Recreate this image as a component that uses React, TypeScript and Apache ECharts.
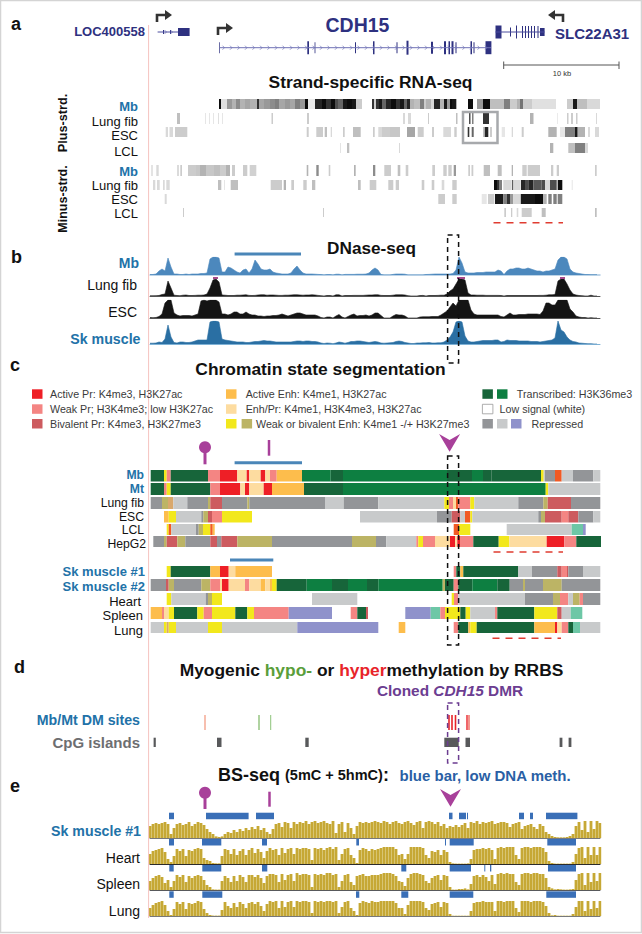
import React, { useEffect, useRef } from "react";
import * as echarts from "echarts";

// ---------- data (x values are locus positions, one unit per screen pixel) ----------
const STATE: Record<string, string> = {
  T1: "#17653a", T2: "#0d7f41", AP: "#ee1f26", WP: "#f48583", BP: "#cd5b5f", AE: "#fdbd4c", EP: "#fddca0",
  WE: "#f2e81c", BE: "#bcb465", R1: "#939598", R2: "#c8cacb", R3: "#8f92cb", OR: "#f15a24", TE: "#6dc7a6", MX: "#d9a86c",
};
type Seg = [number, number, string];
const chromMb: Seg[] = [[150.7,164,"T1"],[164,166.7,"WE"],[166.7,170.7,"WP"],[170.7,208,"T1"],[208,220,"WP"],[220,237.3,"AP"],[237.3,246.7,"EP"],[246.7,249.3,"AP"],[249.3,260.7,"EP"],[260.7,265.3,"AP"],[265.3,270,"EP"],[270,276.7,"WP"],[276.7,302,"AE"],[302,330.7,"T2"],[330.7,343,"T1"],[343,447,"T2"],[447,472,"T1"],[472,483,"T2"],[483,491.7,"T1"],[491.7,541,"T1"],[541,543.7,"WE"],[543.7,545,"R2"],[545,555,"R1"],[555,561.7,"OR"],[561.7,573,"R2"],[573,593.3,"R1"],[593.3,600.3,"R2"]];
const chromMt: Seg[] = [[150.7,164,"T1"],[164,166.7,"WP"],[166.7,170.7,"WE"],[170.7,210.3,"T1"],[210.3,220,"WP"],[220,240.3,"AP"],[240.3,245,"EP"],[245,249.3,"AP"],[249.3,263.7,"EP"],[263.7,272,"AP"],[272,304,"AE"],[304,343,"T1"],[343,545.7,"T2"],[545.7,548.3,"WE"],[548.3,600.3,"R2"]];
const chromLungFib: Seg[] = [[150.7,162,"R1"],[162,168,"BE"],[168,173.3,"MX"],[173.3,187.3,"R2"],[187.3,208,"R1"],[208,210.3,"BE"],[210.3,222,"BP"],[222,247.3,"R1"],[247.3,249.3,"BE"],[249.3,325,"R1"],[325,343.7,"R2"],[343.7,378.3,"R1"],[378.3,444.3,"R2"],[444.3,449,"WE"],[449,453,"WP"],[453,456,"EP"],[456,458.3,"OR"],[458.3,470.3,"WP"],[470.3,474.3,"WE"],[474.3,518.3,"R2"],[518.3,543.3,"R1"],[543.3,547.7,"BE"],[547.7,571,"BP"],[571,600.3,"R1"]];
const chromESC: Seg[] = [[164,168.7,"AE"],[168.7,176,"WE"],[176,201.3,"R2"],[201.3,203.3,"R1"],[203.3,208,"BE"],[208,212,"BP"],[212,222,"WP"],[222,252,"WE"],[360,437,"R2"],[437,451.7,"R1"],[451.7,460.3,"BP"],[460.3,465,"R2"],[465,470.3,"OR"],[470.3,472.3,"WE"],[472.3,538.3,"R2"],[538.3,541,"R1"],[541,545,"BE"],[545,561.7,"BP"],[561.7,568.3,"WP"],[568.3,578.3,"BP"],[578.3,593.3,"R1"],[593.3,600.3,"R2"]];
const chromLCL: Seg[] = [[166.7,168.7,"WE"],[168.7,171.3,"OR"],[171.3,196,"R2"],[196,198.7,"R1"],[198.7,203,"BE"],[203,210.3,"WE"],[210.3,212.7,"OR"],[212.7,214.7,"AE"],[453.7,459,"OR"],[459,470.3,"WE"],[506.7,571.7,"R2"],[571.7,583,"TE"],[583,585.7,"R3"]];
const chromHepG2: Seg[] = [[153.3,164,"R1"],[164,166.7,"BE"],[166.7,177.3,"BP"],[177.3,185.3,"BE"],[185.3,210.3,"R1"],[210.3,217,"BP"],[217,221.3,"R1"],[221.3,237.3,"BP"],[237.3,272,"BE"],[272,352,"R1"],[352,376,"BE"],[376,386.3,"R1"],[386.3,416.3,"R2"],[416.3,418.3,"WP"],[418.3,423,"WE"],[423,435,"WP"],[435,450,"EP"],[450,455,"AP"],[455,457.3,"EP"],[457.3,460,"AP"],[460,473.3,"WP"],[473.3,498.7,"T1"],[498.7,509.3,"WE"],[509.3,546.7,"EP"],[546.7,564.3,"AP"],[564.3,576.3,"WP"],[576.3,601,"T1"]];
const chromSk1: Seg[] = [[166.7,170.7,"WE"],[170.7,210.3,"T1"],[210.3,220,"AE"],[220,228.7,"AP"],[228.7,235.3,"EP"],[235.3,272,"AE"],[453.7,456.3,"WP"],[456.3,460.3,"T1"],[460.3,463.3,"AE"],[463.3,518.3,"T1"],[518.3,532,"R2"],[532,557.3,"R1"],[557.3,561.7,"BP"],[561.7,567,"WP"],[567,568.3,"BP"],[568.3,583,"R1"],[583,600.3,"R2"]];
const chromSk2: Seg[] = [[150.7,166,"R1"],[166,168.7,"BP"],[168.7,174,"BE"],[174,201.3,"R1"],[201.3,210.3,"BE"],[210.3,220,"WP"],[220,222,"EP"],[222,228.7,"AP"],[228.7,245,"EP"],[245,249.3,"WP"],[249.3,260.7,"EP"],[260.7,265.3,"AE"],[265.3,270,"EP"],[270,272,"AE"],[272,276.7,"WE"],[276.7,306.7,"T1"],[306.7,332,"T2"],[332,348,"T1"],[348,367,"T2"],[367,378.3,"T1"],[378.3,442.7,"T2"],[442.7,445,"BE"],[445,453.7,"T1"],[453.7,458.3,"WP"],[458.3,472.3,"T1"],[472.3,497.3,"T2"],[497.3,509.7,"T1"],[509.7,523,"R1"],[523,525,"BE"],[525,543,"R1"],[543,561.7,"BE"],[561.7,600.3,"R1"]];
const chromHeart: Seg[] = [[166.7,171.3,"WE"],[171.3,205.7,"R2"],[205.7,208,"R1"],[208,212,"BE"],[212,222,"WE"],[312,357.3,"R2"],[451.7,454,"WE"],[454,458.3,"WP"],[458.3,525,"R2"],[525,553,"R1"],[553,560,"BE"],[560,568.3,"WP"],[568.3,573,"R2"],[573,579.7,"BE"],[579.7,583,"WP"],[583,600.3,"R1"]];
const chromSpleen: Seg[] = [[150.7,162,"AE"],[162,164,"WP"],[164,168.7,"EP"],[168.7,174,"WE"],[174,197.3,"T1"],[197.3,203.7,"WE"],[203.7,212,"WP"],[212,235.3,"WE"],[235.3,247.3,"T1"],[247.3,254,"WE"],[254,288.7,"WP"],[288.7,332,"R3"],[350.7,357.3,"WP"],[357.3,366,"T1"],[366,368,"BP"],[405.3,430.7,"R3"],[430.7,440.3,"TE"],[440.3,445,"WP"],[445,460.3,"WE"],[460.3,465.7,"T1"],[465.7,470.3,"WE"],[470.3,495,"R2"],[495,497.3,"WP"],[497.3,534.3,"T1"],[534.3,557.3,"WE"],[557.3,561.7,"BP"],[561.7,570.7,"R2"],[570.7,582.3,"TE"]];
const chromLung: Seg[] = [[150.7,164,"R2"],[164,166.7,"WE"],[166.7,168.7,"MX"],[168.7,176,"WE"],[176,208,"R2"],[208,222,"WE"],[222,297.3,"R2"],[297.3,378.3,"R3"],[398.7,405.3,"AE"],[453.7,458.3,"WP"],[458.3,468.3,"T1"],[468.3,470.3,"AE"],[470.3,476.7,"WE"],[476.7,534.3,"T1"],[534.3,555,"AE"],[555,557.3,"AP"],[557.3,561.7,"EP"],[561.7,568.3,"WP"],[568.3,573,"T1"],[573,580,"TE"],[580,600.3,"R2"]];

type Strip = [number, number, number];
const rnaPlusMb: Strip[] = [[219,221,.95],[221,227,.12],[227,232,.4],[232,236,.3],[236,240,.45],[240,245,.3],[245,250,.35],[250,257,.3],[257,259,.8],[259,264,.35],[264,270,.4],[270,275,.45],[275,279,.5],[279,285,.35],[285,290,.4],[290,295,.35],[295,300,.5],[300,305,.4],[305,308,.95],[308,315,.08],[315,322,.85],[322,326,.95],[326,331,.8],[331,335,.95],[335,338,.7],[338,343,.6],[343,347,.9],[347,352,.95],[352,356,.9],[356,362,.2],[372,374,.8],[374,376,.2],[376,379,.8],[379,382,.9],[382,386,.6],[386,391,.85],[391,396,.95],[396,400,.8],[400,404,.9],[404,407,.6],[407,410,.85],[410,414,.3],[414,420,.25],[420,424,.5],[424,426,.2],[426,431,.3],[431,434,.15],[434,440,.85],[440,444,.3],[444,447,.9],[447,450,.4],[450,452,.95],[452,456,.9],[456,457,.3],[468,473,.95],[477,483,.4],[483,490,.95],[490,504,.25],[504,510,.5],[510,517,.2],[517,520,.3],[520,523,.55],[523,532,.2],[532,556,.12],[567,573,.2],[573,577,.9],[577,587,.25],[587,600,.15]];
const rnaPlusLungFib: Strip[] = [[177,180,.25],[205,206,.1],[209,210,.1],[213,214,.1],[218,219,.12],[222,223,.1],[271.5,273,.2],[307,309,.2],[403,405,.15],[408,411,.15],[428,429,.2],[456,457.5,.25],[469,470.5,.7],[472,473.5,.5],[483,489,.8],[530,533.5,.3],[557,558,.08],[567,568.5,.2],[571,573,.2],[576,577.5,.2],[596,597,.15]];
const rnaPlusESC: Strip[] = [[165.7,168,.15],[169.5,173,.15],[175,187.3,.2],[306.7,308.7,.2],[316.3,323,.2],[324.7,327,.25],[330.7,332,.15],[343,344.7,.2],[353,360.7,.25],[373,374.7,.2],[378.3,382,.15],[382,390,.2],[390,400,.22],[407,415,.35],[417.7,423.7,.2],[432,434,.2],[443.3,451,.15],[454.3,456.7,.2],[467.7,469.3,.8],[471.7,473.7,.6],[483.3,485,.35],[485,488.3,.85],[490,492,.2],[501.7,505,.1],[511.7,513,.15],[521.7,523.7,.2],[548.3,556.7,.3],[560,565,.1],[565,575,.5],[575,577.7,.9],[577.7,585,.3],[588,590,.15],[595,599,.15]];
const rnaPlusLCL: Strip[] = [[340.3,341,.15],[347,349.3,.25],[399,400,.15],[550,553.3,.3],[568.3,575,.25],[575,585,.5],[585,588,.15]];
const rnaMinusMb: Strip[] = [[151.3,152.7,.15],[156.3,158.7,.15],[177.3,178.7,.2],[180.3,182,.2],[188,196,.2],[196,200,.22],[200,206,.3],[206,214,.22],[214,220,.25],[220,226,.2],[226,230,.3],[232,235,.2],[243,247.3,.2],[249.7,256.3,.18],[306.7,308.3,.3],[316.3,318.7,.45],[328.7,330.3,.2],[354,355.7,.3],[373,375.3,.45],[384.3,391,.2],[397.7,400.3,.25],[405.7,408.3,.2],[432.3,435,.2],[443.3,446.7,.2],[448.3,451.7,.2],[453.7,456,.4],[468.3,470,.2],[471.5,473.3,.2],[483.7,490,.25],[497.7,501.7,.25],[511.7,513,.3],[522.3,526.7,.2],[527.7,540,.2],[551,553.3,.2],[556.7,559,.2],[595,596.7,.2]];
const rnaMinusLungFib: Strip[] = [[153,155.3,.15],[157,159.7,.15],[163,164.7,.15],[166.3,169.7,.15],[218,221.3,.25],[224,225,.1],[230.7,238,.25],[270.7,282,.2],[283.7,286,.3],[291.3,294,.2],[303.3,306.7,.2],[312,315.3,.25],[358,360.7,.25],[369.7,376.3,.2],[388.3,393.3,.2],[395.7,399,.2],[421.7,424.3,.2],[431.7,434.3,.2],[441.7,444.3,.15],[452.3,456.7,.2],[494,497,.95],[497,499,.8],[499,502,.5],[503.3,511.7,.15],[512.3,513.3,.9],[513.3,520.7,.15],[521,525,.85],[525,528.3,.7],[528.3,533.3,.85],[533.3,541.7,.65],[541.7,545,.7],[545,550,.15],[550,556.7,.7],[557.7,562.3,.95],[571.7,572.7,.1]];
const rnaMinusESC: Strip[] = [[164.7,166.7,.15],[438.3,445,.2],[452.3,456.7,.2],[481.7,486.7,.1],[488,494.3,.2],[495,503.3,.9],[503.3,506.7,.5],[506.7,510,.8],[510,513.3,.4],[513.3,520,.15],[520.7,535,.9],[535,543.3,.95],[543.3,546.7,.3],[548.3,551.7,.5],[553.3,556.7,.5],[557.7,562.3,.5]];
const rnaMinusLCL: Strip[] = [[183,184,.2],[323,324,.2],[504.3,506,.2],[511,512.3,.2],[516.7,518.3,.15],[521.7,531.7,.2],[541.7,545.7,.25],[595,596.7,.25]];

// DNase-seq signal, one value every 3 locus units from 150
const dnaseMb = [.5,.5,1,4,6,4,17,8,1,1,.5,.5,1,.5,1,1,1,1.5,1.5,2,16,18,18,17,3,3,8,7,5,3,2,5,6,2,6,15,11,6,5,5,6,3,2,1.5,1,1,1,2,6,9,5,2,1,1,1,.8,.6,.4,0,.4,.4,0,.8,.8,0,.6,.6,.6,.6,.8,.8,.8,1,2,5,7,5,.5,0,0,0,.6,1,1,1,.8,0,0,0,0,0,0,.5,.6,.8,1,1,1,1,1,1,1.5,5,18,12,3,2,2,2,2.5,2.5,2.5,3,3,3,3,5,4,.5,4,6,6,7,7,6,6,7,6,5,4,4,3,4,4,5,6,15,18,18,16,6,3,2,1.5,1,.5,.4,.3,.3,.3];
const dnaseLungFib = [.2,.2,.3,.5,1.5,2,15,8,.8,.5,.3,.8,1,.5,.5,.6,.8,.8,1,2,8,16,17,14,1,.8,.5,.5,.5,.8,.8,1,1.2,.6,.5,.6,1,1.2,1.2,.8,1,1,.8,.6,.6,.8,.8,1,1.2,1.2,1,.8,1,1,1.2,1,.6,.3,0,.5,.5,0,1.2,1.2,0,.5,.5,.5,.6,.6,.6,.6,.8,1,1,1.2,1.2,.6,.5,.5,.5,.8,1.2,1.2,1.2,1,.3,0,0,0,.4,.6,0,.5,.5,.5,.6,.8,.8,2,5,7,12,17,17,16,3,1,1,.8,.8,.8,.6,.6,.6,.6,.6,.5,0,.5,.5,.5,.5,.5,.5,.5,.5,.5,.5,.5,.6,.6,.8,1.2,1.2,1.5,15,17,17,12,6,2,1,.5,.3,0,0,.8,0,0];
const dnaseESC = [.5,.3,.5,1.5,4,15,18,18,5,3,2,2.5,2.5,2.5,2,3,4,17,18,17,18,18,18,16,4,4,3,4,6,6,4,4,6,4,3,3,2,2,1.5,2,2,2.5,2.5,3,4,3,2,3,4,5,5,4,3,3,3,3,2,.5,0,1,1,0,2,3.5,1,0,1.5,3,4,2,2.5,2.5,3,2,3,5,5,2.5,0,0,0,2,3.5,3,3,2,0,0,0,0,1,1.2,1.2,1.2,1.5,1.5,1.5,3,5,7,11,15,12,18,18,18,18,8,4,3,3,3,3,3,3,3,3,1.5,1,3,5,3,3,3.5,3.5,3.5,4,4,4,4,3.5,7,15,15,13,13,18,18,18,18,9,6,2,1,.5,.5,0,.3,0,0];
const dnaseSk = [.8,.8,1,2,1.5,5,19,7,1.5,1,2,2,1.5,1.5,2,3,4,4,4,4,22,23,23,22,5,4,3.5,3,2.5,2,2,2,1.5,1.5,2,2.5,2.5,3,3.5,3,3,2.5,2,2,2,2,2,2,2.5,3,3,2.5,3,3,2.5,2.5,2,1,.5,1,.8,.3,1,2,1.5,.8,1.5,2.5,2.5,3,3,2.5,2,1.5,2,2.5,2,1,.8,1,1.2,1.5,2.5,3,2.5,1.5,1,.5,.5,1,1,1.2,1.2,1.5,1,1,1.2,1.2,2,4,7,12,22,23,22,8,3,2,2,2.5,3,3.5,3.5,3.5,3.5,4,4,2,2.5,4,3.5,3.5,3.5,3,3,3,3,2.5,2.5,2.5,2,2.5,3,3.5,4,6,23,14,12,7,4,2.5,2,1,.8,.5,.3,.3,0,0];
const dnaseCaps: [number, number][] = [[213, 218], [457, 465], [560, 565]];

// BS-seq methylation signal, one value every 3 locus units from 150
const bsSk1 = [12,14,15,14,15,16,14,4,10,14,15,13,14,16,12,14,16,15,13,9,6,4,1.5,1,1.5,4,6,5,8,6,9,7,10,8,11,9,12,8,10,6,4,9,14,15,11,16,15,10,16,14,16,15,17,14,16,17,15,16,17,15,14,17,5,14,16,6,15,10,4,12,16,15,16,15,16,17,16,15,17,16,14,16,17,15,14,16,17,15,13,16,17,10,16,17,16,14,16,12,14,10,12,11,13,11,13,15,10,16,15,17,14,16,15,16,17,14,15,16,16,15,11,14,15,16,9,12,13,14,11,9,14,12,6,4,2,1,.5,.5,.5,1,2,4,12,16,8,17,6,17,9,17,15];
const bsHeart = [10,13,14,15,16,12,5,2,8,15,13,15,8,14,13,15,16,15,6,4,3,1,.5,.5,8,15,14,10,15,9,13,15,9,14,16,11,15,12,6,13,16,14,15,9,16,11,15,16,10,16,15,16,16,15,4,16,15,16,14,16,17,15,17,4,10,15,16,9,6,1,14,16,15,13,15,14,15,16,17,17,17,17,15,9,10,5,10,17,17,17,17,16,9,6,13,12,14,9,14,12,2,.5,.3,.3,.3,.3,.5,5,14,15,15,16,15,16,14,5,16,17,16,17,17,17,9,5,16,17,17,16,17,17,17,16,12,3,1,.3,.3,.3,.3,.3,.3,2,10,16,17,6,17,9,17,9,17];
const bsSpleen = [9,12,14,15,13,7,10,3,9,15,13,15,8,14,12,14,15,14,10,5,3,.5,.3,.3,9,14,12,8,14,9,15,13,8,15,15,13,15,12,7,14,16,16,15,8,16,10,15,16,9,17,15,16,16,15,3,16,15,16,15,17,17,15,16,3,9,15,16,8,5,14,15,16,14,14,15,15,15,16,17,17,17,16,14,9,8,4,12,16,17,17,16,15,9,7,12,14,15,10,15,14,3,.3,.3,1,1,1.5,.5,6,14,15,13,15,13,9,15,6,16,17,16,17,16,16,8,5,16,17,17,16,17,17,16,16,12,3,1.5,.5,1,.5,.3,.3,.5,1,10,16,17,5,17,8,17,9,17];
const bsLung = [8,11,13,14,15,11,5,1,7,14,12,14,7,13,12,13,15,14,7,3,1,.3,.3,.3,6,14,10,8,13,9,14,12,8,13,14,12,14,10,5,12,15,14,15,8,15,9,14,15,9,15,14,15,15,14,3,15,14,15,14,15,15,14,15,3,9,14,15,8,5,1,13,15,14,13,15,14,14,15,15,15,15,15,13,8,8,2,11,15,15,15,15,14,8,6,12,13,14,9,14,13,2,.2,.2,.2,.2,.2,.2,5,13,14,14,15,14,14,14,5,15,15,14,15,15,15,8,4,15,15,15,14,15,15,15,14,10,3,.5,1,.2,.2,.2,.2,.2,2,9,15,15,5,15,7,15,8,15];

const lowMethSk1: [number, number][] = [[169,174],[206,248.6],[256,274],[449,452.5],[459,466],[467,468],[519,524],[530,533],[546,577.4]];
const lowMethHeart: [number, number][] = [[169,174],[202,221.3],[262,267],[356.3,359],[445,446],[449.7,473.7],[547.3,576]];
const lowMethSpleen: [number, number][] = [[169.3,173.7],[202.3,221.3],[262,267.3],[401.3,406.3],[449.7,471],[484.3,485.3],[490,491.3],[548,576]];
const lowMethLung: [number, number][] = [[169.3,173.7],[202.3,222.3],[356,359.3],[401.3,408.3],[449.7,473.3],[546.3,576]];

const dmSites: [number, string, number][] = [[205,"#f08060",.5],[259,"#62a744",.5],[270.7,"#8cc47a",.5],[449,"#e8242a",.8],[452,"#e8242a",.8],[455.5,"#e8242a",.8],[467,"#e8242a",.7],[469,"#ee6a60",.7]];
const cpgIslands: [number, number][] = [[153.6,155.8],[217,221.5],[305.3,308.7],[444.3,458.7],[465.5,470],[559.6,562.4],[568.6,571.4]];

const geneLOCExons: [number, number, number][] = [[163,164,4],[170,171,4],[178,189.6,8]];
const geneCDHExons: [number, number, number][] = [[219.3,220,11],[307.3,309,13],[314.6,315.4,11],[355,356,11],[373,374.5,13],[396.5,397.5,11],[406.5,408.5,14],[431,433,12],[444,446,13],[448.5,450,13],[451.5,453.5,13],[455.5,456.5,11],[470.5,472,13],[473.5,474.5,11],[485.5,491.4,13]];
const geneSLCExons: [number, number, number][] = [[495.5,501.5,13],[510,511,9],[516,517,13],[522,523,12],[525,526,12],[528,529,12],[531,532,12],[534,535,12],[537.5,538.5,12],[540,544.6,8]];

const legendRows = [
  { y: 394, items: [{ x: 32, c: "AP", t: "Active Pr: K4me3, H3K27ac", tx: 50 }, { x: 226, c: "AE", t: "Active Enh: K4me1, H3K27ac", tx: 245.7 }, { x: 482.4, c: "T1" }, { x: 497, c: "T2", t: "Transcribed: H3K36me3", tx: 516.8 }] },
  { y: 409, items: [{ x: 32, c: "WP", t: "Weak Pr; H3K4me3; low H3K27ac", tx: 50 }, { x: 226, c: "EP", t: "Enh/Pr: K4me1, H3K4me3, H3K27ac", tx: 245.7 }, { x: 482.4, c: "WH", t: "Low signal (white)", tx: 499.6 }] },
  { y: 423.7, items: [{ x: 32, c: "BP", t: "Bivalent Pr: K4me3, H3K27me3", tx: 50 }, { x: 226, c: "WE" }, { x: 241.6, c: "BE", t: "Weak or bivalent Enh: K4me1 -/+ H3K27me3", tx: 256 }, { x: 482.4, c: "R1" }, { x: 497, c: "R2" }, { x: 511, c: "R3", t: "Repressed", tx: 531.5 }] },
];

// ---------- layout ----------
const FONT = '"Liberation Sans", Arial, sans-serif';
const BLUE = "#2272a8";
const NAVY = "#2e3180";
const chromRows: [number, number, Seg[]][] = [[470,481.5,chromMb],[483,495,chromMt],[497,509,chromLungFib],[511,522.5,chromESC],[524,535,chromLCL],[536,547,chromHepG2],[566,577,chromSk1],[579,591,chromSk2],[593,605,chromHeart],[607,619,chromSpleen],[622,633,chromLung]];
const rnaRows: [number, number, Strip[]][] = [[99,109,rnaPlusMb],[113,124,rnaPlusLungFib],[127,137,rnaPlusESC],[143,153,rnaPlusLCL],[165,176,rnaMinusMb],[180,190,rnaMinusLungFib],[194,204,rnaMinusESC],[208,217,rnaMinusLCL]];
const bsBars: [number, [number, number][]][] = [[812.7,lowMethSk1],[839,lowMethHeart],[865,lowMethSpleen],[891.3,lowMethLung]];

type Span = { x0: number; x1: number; y0: number; y1: number; color: string };
function gray(l: number) { const v = Math.round(255 * (1 - l)); return `rgb(${v},${v},${v})`; }

function spanSeries(items: Span[], z = 2) {
  return {
    type: "custom", xAxisIndex: 0, yAxisIndex: 0, silent: true, z, clip: false,
    encode: { x: [0, 1], y: [2, 3] },
    data: items.map((s) => [s.x0, s.x1, s.y0, s.y1]),
    renderItem: (p: any, api: any) => {
      const a = api.coord([api.value(0), api.value(2)]);
      const b = api.coord([api.value(1), api.value(3)]);
      return { type: "rect", shape: { x: a[0], y: a[1], width: b[0] - a[0], height: b[1] - a[1] }, style: { fill: items[p.dataIndex].color } };
    },
  };
}

function txt(text: string, x: number, y: number, size: number, o: any = {}) {
  return {
    type: "text", x, y, z: 100, silent: true, rotation: o.rotation || 0,
    style: { text, fill: o.fill || "#111", font: `${o.italic ? "italic " : ""}${o.bold ? "bold " : ""}${size}px ${FONT}`, textAlign: o.align || "left", textVerticalAlign: "middle", ...(o.rich ? { rich: o.rich } : {}) },
  };
}
function line(x1: number, y1: number, x2: number, y2: number, stroke: string, lineWidth: number, lineDash?: number[]) {
  return { type: "line", z: 100, silent: true, shape: { x1, y1, x2, y2 }, style: { stroke, lineWidth, ...(lineDash ? { lineDash } : {}) } };
}
function dashBox(x: number, y: number, w: number, h: number, stroke: string) {
  return { type: "rect", z: 100, silent: true, shape: { x, y, width: w, height: h }, style: { fill: "none", stroke, lineWidth: 1.5, lineDash: [5, 4] } };
}
function tss(x: number, y: number, dir: number) {
  return [
    { type: "polyline", z: 100, silent: true, shape: { points: [[x, y + 7], [x, y], [x + dir * 9, y]] }, style: { stroke: "#333", lineWidth: 2.6, fill: "none" } },
    { type: "polygon", z: 100, silent: true, shape: { points: [[x + dir * 8, y - 5], [x + dir * 15, y], [x + dir * 8, y + 5]] }, style: { fill: "#333" } },
  ];
}
function chevronDown(cx: number, top: number, tip: number, hw: number) {
  return { type: "polygon", z: 100, silent: true, shape: { points: [[cx - hw, top], [cx, top + 6], [cx + hw, top], [cx, tip]] }, style: { fill: "#a8409a" } };
}
function lollipop(cx: number, cy: number, end: number) {
  return [
    line(cx, cy, cx, end, "#a8409a", 3),
    { type: "circle", z: 100, silent: true, shape: { cx, cy, r: 6 }, style: { fill: "#a8409a" } },
  ];
}
function intronChevrons(x0: number, x1: number, y: number, step: number, dir: number) {
  const out: any[] = [];
  for (let x = x0; x < x1; x += step) {
    out.push({ type: "polyline", z: 90, silent: true, shape: { points: [[x - dir * 1.5, y - 2], [x + dir * 0.5, y], [x - dir * 1.5, y + 2]] }, style: { stroke: "#6f72b5", lineWidth: 0.7, fill: "none" } });
  }
  return out;
}

function grid(top: number, h: number) { return { left: 150, width: 450, top, height: h }; }
function xAxis(idx: number, color: string, w: number) {
  return { type: "value", gridIndex: idx, min: 150, max: 600, axisLine: { show: true, onZero: true, lineStyle: { color, width: w } }, axisTick: { show: false }, axisLabel: { show: false }, splitLine: { show: false } };
}
function yAxis(idx: number, max: number) {
  return { type: "value", gridIndex: idx, min: 0, max, show: false };
}
function xy(vals: number[]) { return vals.map((v, i) => [150 + 3 * i, v]); }
function area(idx: number, vals: number[], color: string) {
  return { type: "line", xAxisIndex: idx, yAxisIndex: idx, data: xy(vals), symbol: "none", silent: true, smooth: false, lineStyle: { color, width: 0.6 }, areaStyle: { color, opacity: 1 }, z: 3 };
}
function bsUnder(idx: number, vals: number[]) {
  return { type: "line", xAxisIndex: idx, yAxisIndex: idx, data: xy(vals), symbol: "none", silent: true, step: "middle", lineStyle: { width: 0 }, areaStyle: { color: "#e2d596", opacity: 1 }, z: 2 };
}
function bars(idx: number, vals: number[]) {
  return { type: "bar", xAxisIndex: idx, yAxisIndex: idx, data: xy(vals), barWidth: 2.4, silent: true, itemStyle: { color: "#c6a835" }, z: 3 };
}

function buildOption() {
  const spans: Span[] = [];
  chromRows.forEach(([y0, y1, segs]) => segs.forEach(([a, b, s]) => spans.push({ x0: a, x1: b, y0, y1, color: STATE[s] })));
  const strips: Span[] = [];
  rnaRows.forEach(([y0, y1, segs]) => segs.forEach(([a, b, l]) => strips.push({ x0: a, x1: b, y0, y1, color: gray(l) })));
  const low: Span[] = [];
  bsBars.forEach(([y0, segs]) => segs.forEach(([a, b]) => low.push({ x0: a, x1: b, y0, y1: y0 + 6.5, color: "#3a6fb7" })));
  const dm: Span[] = dmSites.map(([x, c, w]) => ({ x0: x - w, x1: x + w, y0: 715, y1: 730, color: c }));
  const cpg: Span[] = cpgIslands.map(([a, b]) => ({ x0: a, x1: b, y0: 737.7, y1: 747, color: "#58595b" }));
  const genes: Span[] = [];
  const ex = (arr: [number, number, number][], cy: number) => arr.forEach(([a, b, h]) => genes.push({ x0: a, x1: b, y0: cy - h / 2, y1: cy + h / 2, color: NAVY }));
  ex(geneLOCExons, 32); ex(geneCDHExons, 47.7); ex(geneSLCExons, 32);
  const caps: Span[] = dnaseCaps.map(([a, b]) => ({ x0: a, x1: b, y0: 277, y1: 279, color: "#a84a8c" }));

  const labels = [
    txt("a", 11, 24, 18, { bold: true }), txt("b", 11, 257, 18, { bold: true }), txt("c", 10, 365, 18, { bold: true }),
    txt("d", 14, 667, 18, { bold: true }), txt("e", 10, 786, 18, { bold: true }),
    txt("LOC400558", 145, 31, 13, { bold: true, fill: NAVY, align: "right" }),
    txt("CDH15", 357.5, 25, 19.5, { bold: true, fill: NAVY, align: "center" }),
    txt("SLC22A31", 555, 33, 15, { bold: true, fill: NAVY }),
    txt("10 kb", 562, 73, 7.5, { align: "center", fill: "#333" }),
    txt("Strand-specific RNA-seq", 370.5, 81.5, 17.4, { bold: true, align: "center" }),
    txt("Plus-strd.", 63, 123, 12.7, { bold: true, align: "center", rotation: Math.PI / 2 }),
    txt("Minus-strd.", 63, 199, 12.5, { bold: true, align: "center", rotation: Math.PI / 2 }),
    txt("Mb", 138, 106, 13, { bold: true, fill: BLUE, align: "right" }),
    txt("Lung fib", 138, 121, 13, { align: "right" }), txt("ESC", 138, 135.5, 13, { align: "right" }), txt("LCL", 138, 151, 13, { align: "right" }),
    txt("Mb", 138, 171, 13, { bold: true, fill: BLUE, align: "right" }),
    txt("Lung fib", 138, 185, 13, { align: "right" }), txt("ESC", 138, 199.5, 13, { align: "right" }), txt("LCL", 138, 213, 13, { align: "right" }),
    txt("DNase-seq", 371.5, 247.5, 17.2, { bold: true, align: "center" }),
    txt("Mb", 139, 263, 14, { bold: true, fill: BLUE, align: "right" }),
    txt("Lung fib", 137, 285, 14, { align: "right" }), txt("ESC", 137, 312, 14, { align: "right" }),
    txt("Sk muscle", 140.5, 339, 14.2, { bold: true, fill: BLUE, align: "right" }),
    txt("Chromatin state segmentation", 320.5, 369, 17.4, { bold: true, align: "center" }),
    txt("Mb", 144, 474.5, 12.2, { bold: true, fill: BLUE, align: "right" }), txt("Mt", 144, 488.5, 12.2, { bold: true, fill: BLUE, align: "right" }),
    txt("Lung fib", 144, 502.5, 12.2, { align: "right" }), txt("ESC", 144, 516.5, 12.2, { align: "right" }), txt("LCL", 144, 530, 12.2, { align: "right" }), txt("HepG2", 146, 543.5, 12.2, { align: "right" }),
    txt("Sk muscle #1", 145, 571, 13, { bold: true, fill: BLUE, align: "right" }), txt("Sk muscle #2", 145, 586, 13, { bold: true, fill: BLUE, align: "right" }),
    txt("Heart", 141, 601, 13, { align: "right" }), txt("Spleen", 143, 615.5, 13, { align: "right" }), txt("Lung", 143, 630, 13, { align: "right" }),
    txt("{k|Myogenic }{g|hypo-}{k| or }{r|hyper}{k|methylation by RRBS}", 371.5, 669.5, 0, {
      align: "center",
      rich: {
        k: { font: `bold 17.4px ${FONT}`, fill: "#111" },
        g: { font: `bold 17.4px ${FONT}`, fill: "#5a9e3a" },
        r: { font: `bold 17.4px ${FONT}`, fill: "#e8242a" },
      },
    }),
    txt("{a|Cloned }{b|CDH15}{a| DMR}", 450, 690, 0, {
      align: "center",
      rich: { a: { font: `bold 15.4px ${FONT}`, fill: "#6c3d91" }, b: { font: `italic bold 15.4px ${FONT}`, fill: "#6c3d91" } },
    }),
    txt("Mb/Mt DM sites", 140, 719.5, 14.2, { bold: true, fill: BLUE, align: "right" }),
    txt("CpG islands", 140, 742, 15, { bold: true, fill: "#6d6e71", align: "right" }),
    txt("{a|BS-seq }{b|(5mC + 5hmC)}{a|:}", 218, 775, 0, {
      rich: { a: { font: `bold 18px ${FONT}`, fill: "#111" }, b: { font: `bold 14.5px ${FONT}`, fill: "#111" } },
    }),
    txt("blue bar, low DNA meth.", 399.5, 775, 15, { bold: true, fill: "#2a5fa5" }),
    txt("Sk muscle #1", 141, 831, 14.2, { bold: true, fill: BLUE, align: "right" }),
    txt("Heart", 140, 858, 14, { align: "right" }), txt("Spleen", 140, 884, 14, { align: "right" }), txt("Lung", 140, 911, 14, { align: "right" }),
  ];

  const legend: any[] = [];
  legendRows.forEach((row) => row.items.forEach((it: any) => {
    legend.push({
      type: "rect", z: 100, silent: true, shape: { x: it.x, y: row.y - 4.7, width: 10.5, height: 9.5 },
      style: it.c === "WH" ? { fill: "#fff", stroke: "#999", lineWidth: 0.8 } : { fill: STATE[it.c] },
    });
    if (it.t) legend.push(txt(it.t, it.tx, row.y, 10.7, { fill: "#3b3b3b" }));
  }));

  const shapes = [
    { type: "rect", z: 0, silent: true, shape: { x: 0.5, y: 0.5, width: 641, height: 932 }, style: { fill: "none", stroke: "#d4d4d4", lineWidth: 1.5 } },
    line(148.6, 25, 148.6, 918, "#f6c3bf", 1),
    line(157.6, 32, 178, 32, "#4a4d9e", 1), line(219.5, 47.7, 491, 47.7, "#6f72b5", 1), line(495.5, 32, 544.6, 32, "#4a4d9e", 1),
    ...intronChevrons(166, 178, 32, 6, 1), ...intronChevrons(224, 487, 47.7, 7.5, 1),
    ...tss(157, 15, 1), ...tss(218, 28, 1), ...tss(563, 15, -1),
    line(503.7, 65, 619, 65, "#555", 1), line(503.7, 61.5, 503.7, 69, "#555", 1), line(619, 61.5, 619, 69, "#555", 1),
    { type: "rect", z: 100, silent: true, shape: { x: 463, y: 112, width: 34.5, height: 31 }, style: { fill: "none", stroke: "#a7a9ac", lineWidth: 2.5 } },
    line(493.5, 222.7, 563, 222.7, "#e03c31", 1.5, [7, 6]),
    line(234.6, 254, 301, 254, "#4a86b8", 3),
    dashBox(447.6, 235, 11, 128, "#111"),
    chevronDown(449.6, 434, 451.7, 10.5), ...lollipop(205, 447.3, 464.3), line(269, 440, 269, 455.7, "#a8409a", 2.5),
    line(234.6, 462.7, 302, 462.7, "#4a86b8", 3), line(230, 560, 273.3, 560, "#4a86b8", 3),
    dashBox(447.6, 456, 11, 189, "#111"),
    line(493.5, 552, 563, 552, "#e03c31", 1.5, [7, 6]), line(492.5, 638.3, 561, 638.3, "#e03c31", 1.5, [7, 6]),
    dashBox(447.6, 703, 11, 60, "#6c3d91"),
    chevronDown(450.5, 789, 806.7, 10.5), ...lollipop(205, 792.7, 809), line(269.5, 791.7, 269.5, 806.7, "#a8409a", 2.5),
  ];

  return {
    animation: false,
    backgroundColor: "#fff",
    grid: [
      { left: 0, top: 0, width: 642, height: 934 },
      grid(257, 18), grid(278, 18), grid(300, 18), grid(321, 23),
      grid(821, 17), grid(847, 17), grid(873, 17), grid(899, 17),
    ],
    xAxis: [
      { type: "value", gridIndex: 0, min: 0, max: 642, show: false },
      xAxis(1, "#a8c6e0", 1.5), xAxis(2, "#555", 1), xAxis(3, "#555", 1), xAxis(4, "#7fb2d6", 1),
      xAxis(5, "#77787b", 1), xAxis(6, "#2b2b2b", 1.2), xAxis(7, "#58595b", 1), xAxis(8, "#77787b", 1),
    ],
    yAxis: [
      { type: "value", gridIndex: 0, min: 0, max: 934, inverse: true, show: false },
      yAxis(1, 18), yAxis(2, 18), yAxis(3, 18), yAxis(4, 23),
      yAxis(5, 17), yAxis(6, 17), yAxis(7, 17), yAxis(8, 17),
    ],
    series: [
      spanSeries(strips), spanSeries(spans), spanSeries(low), spanSeries(dm), spanSeries(cpg), spanSeries(genes, 5),
      area(1, dnaseMb, "#4c88bd"), area(2, dnaseLungFib, "#141414"), area(3, dnaseESC, "#141414"), area(4, dnaseSk, "#2a6fa3"),
      spanSeries(caps, 6),
      bsUnder(5, bsSk1), bsUnder(6, bsHeart), bsUnder(7, bsSpleen), bsUnder(8, bsLung),
      bars(5, bsSk1), bars(6, bsHeart), bars(7, bsSpleen), bars(8, bsLung),
    ],
    graphic: { elements: [...shapes, ...legend, ...labels] },
  };
}

export default function App() {
  const ref = useRef<HTMLDivElement>(null);
  useEffect(() => {
    document.body.style.margin = "0";
    const chart = echarts.init(ref.current!, undefined, { renderer: "svg" });
    chart.setOption(buildOption() as any);
    return () => chart.dispose();
  }, []);
  return <div ref={ref} style={{ width: 642, height: 934 }} />;
}
